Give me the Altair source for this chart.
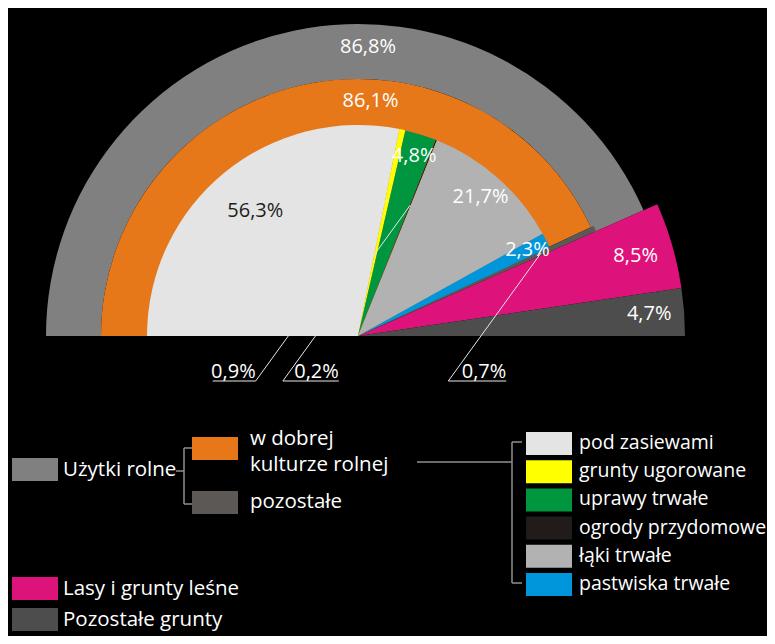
import math
import altair as alt
import pandas as pd

# ---------------- data ----------------
outer_cats = ["Użytki rolne", "Lasy i grunty leśne", "Pozostałe grunty"]
outer_vals = [86.8, 8.5, 4.7]
outer_labels = ["86,8%", "8,5%", "4,7%"]
outer_colors = ["#808080", "#dd137b", "#4d4d4d"]

mid_cats = ["w dobrej kulturze rolnej", "pozostałe"]
mid_vals = [86.1, 0.7]
mid_labels = ["86,1%", "0,7%"]
mid_colors = ["#e6781a", "#5c5856"]

inner_cats = ["pod zasiewami", "grunty ugorowane", "uprawy trwałe",
              "ogrody przydomowe", "łąki trwałe", "pastwiska trwałe"]
inner_vals = [56.3, 0.9, 4.8, 0.2, 21.7, 2.3]
inner_labels = ["56,3%", "0,9%", "4,8%", "0,2%", "21,7%", "2,3%"]
inner_colors = ["#e4e4e4", "#ffff00", "#009640", "#211c19", "#b2b2b2", "#0096dc"]

# ---------------- layout ----------------
FONT = "Open Sans"
FS = 20.5
FS_RIGHT = 19.5
FS_LAB = 20
W, H = 759, 628
CX, CY = 350, 328
R_IN, R_MID, R_OUT, R_SIDE = 211, 257, 312, 327


def P(v):
    return v - 8  # page px -> chart px


def cum(vals):
    s, e, acc = [], [], 0.0
    for v in vals:
        s.append(acc)
        acc += v
        e.append(acc)
    return s, e


def polar(pos, r):
    th = math.radians(-90 + pos * 1.8)
    return CX + r * math.sin(th), CY - r * math.cos(th)


os_, oe = cum(outer_vals)
ms, me = cum(mid_vals)
is_, ie = cum(inner_vals)

outer_df = pd.DataFrame({"cat": outer_cats, "start": os_, "end": oe})
mid_df = pd.DataFrame({"cat": mid_cats, "start": ms, "end": me})
inner_df = pd.DataFrame({"cat": inner_cats, "start": is_, "end": ie})

all_cats = outer_cats + mid_cats + inner_cats
all_colors = outer_colors + mid_colors + inner_colors
color_scale = alt.Scale(domain=all_cats, range=all_colors)
theta_scale = alt.Scale(domain=[0, 100], range=[-math.pi / 2, math.pi / 2])


def arcs(df, r, r2):
    return alt.Chart(df).mark_arc(radius=r, radius2=r2).encode(
        x=alt.value(CX), y=alt.value(CY),
        theta=alt.Theta("start:Q", scale=theta_scale, stack=None),
        theta2="end:Q",
        color=alt.Color("cat:N", scale=color_scale, legend=None),
    )


ring_gray = arcs(outer_df[outer_df.cat == outer_cats[0]], R_OUT, R_MID)
side = arcs(outer_df[outer_df.cat != outer_cats[0]], R_SIDE, 0)
orange = arcs(mid_df[mid_df.cat == mid_cats[0]], R_MID, 0)
rest = arcs(mid_df[mid_df.cat == mid_cats[1]], R_MID + 3, 0)
inner = arcs(inner_df, R_IN, 0)

# ---------------- slice labels ----------------
lab_rows = []
x, y = polar(51.1, 289)
lab_rows.append({"text": outer_labels[0], "x": x, "y": y, "tc": "#ffffff"})
x, y = polar(51.7, 235)
lab_rows.append({"text": mid_labels[0], "x": x, "y": y, "tc": "#ffffff"})
side_r = {1: 289, 2: 292}
for i in (1, 2):
    x, y = polar((os_[i] + oe[i]) / 2, side_r[i])
    lab_rows.append({"text": outer_labels[i], "x": x, "y": y, "tc": "#ffffff"})
inner_r = {0: 162, 2: 189, 4: 185, 5: 190}
for i, r in inner_r.items():
    x, y = polar((is_[i] + ie[i]) / 2, r)
    lab_rows.append({"text": inner_labels[i], "x": x, "y": y,
                     "tc": "#1e1e1e" if i == 0 else "#ffffff"})
lab_df = pd.DataFrame(lab_rows)

labels = alt.Chart(lab_df).mark_text(
    font=FONT, fontSize=FS_LAB, baseline="middle", align="center"
).encode(
    x=alt.X("x:Q", scale=None, axis=None),
    y=alt.Y("y:Q", scale=None, axis=None),
    text="text:N",
    color=alt.Color("tc:N", scale=None),
)

# ---------------- leader labels ----------------
SLOPE = 1.38
BASE_Y = P(381)
lead_specs = [
    ((is_[1] + ie[1]) / 2, 140, inner_labels[1], -43),
    ((is_[3] + ie[3]) / 2, 141, inner_labels[3], 56),
    ((ms[1] + me[1]) / 2, 201, mid_labels[1], 58),
]
seg_rows, lt_rows = [], []
for pos, r, txt, ul in lead_specs:
    sx, sy = polar(pos, r)
    ex = sx - (BASE_Y - sy) / SLOPE
    seg_rows.append({"x": sx, "y": sy, "x2": ex, "y2": BASE_Y})
    ux = ex + ul
    seg_rows.append({"x": ex, "y": BASE_Y, "x2": ux, "y2": BASE_Y})
    lt_rows.append({"text": txt, "x": max(ex, ux), "y": BASE_Y - 3})
seg_df = pd.DataFrame(seg_rows)
lt_df = pd.DataFrame(lt_rows)

leaders = alt.Chart(seg_df).mark_rule(color="#e8e8e8", strokeWidth=1).encode(
    x=alt.X("x:Q", scale=None, axis=None), y=alt.Y("y:Q", scale=None, axis=None),
    x2="x2:Q", y2="y2:Q",
)
leader_text = alt.Chart(lt_df).mark_text(
    font=FONT, fontSize=FS_LAB, baseline="alphabetic", align="right", color="#ffffff"
).encode(
    x=alt.X("x:Q", scale=None, axis=None), y=alt.Y("y:Q", scale=None, axis=None),
    text="text:N",
)

# ---------------- legend ----------------
SW_W, SW_H = 46, 23
leg_rows = []
left_tops = [458, 577, 608]
for c, t in zip(outer_cats, left_tops):
    leg_rows.append({"cat": c, "label": c, "sx": P(12), "sy": P(t), "tx": P(63),
                     "ty": P(t) + 12, "fs": FS})
mid_tops = [437, 491]
mid_disp = ["w dobrej\nkulturze rolnej", mid_cats[1]]
mid_ty = [439, 502]
for c, d, t, ty in zip(mid_cats, mid_disp, mid_tops, mid_ty):
    leg_rows.append({"cat": c, "label": d, "sx": P(192), "sy": P(t), "tx": P(250),
                     "ty": P(ty), "fs": FS})
for i, c in enumerate(inner_cats):
    t = 432 + i * 28.2
    leg_rows.append({"cat": c, "label": c, "sx": P(526), "sy": P(t), "tx": P(579),
                     "ty": P(t) + 11, "fs": FS_RIGHT})
leg_df = pd.DataFrame(leg_rows)
leg_df["sx2"] = leg_df.sx + SW_W
leg_df["sy2"] = leg_df.sy + SW_H

swatches = alt.Chart(leg_df).mark_rect().encode(
    x=alt.X("sx:Q", scale=None, axis=None), y=alt.Y("sy:Q", scale=None, axis=None),
    x2="sx2:Q", y2="sy2:Q",
    color=alt.Color("cat:N", scale=color_scale, legend=None),
)
leg_text = alt.Chart(leg_df).mark_text(
    font=FONT, baseline="middle", align="left", color="#ffffff",
    lineBreak="\n", lineHeight=26,
).encode(
    x=alt.X("tx:Q", scale=None, axis=None), y=alt.Y("ty:Q", scale=None, axis=None),
    text="label:N",
    size=alt.Size("fs:Q", scale=None, legend=None),
)

# bracket connectors
br = [
    (176, 471, 184, 471), (184, 448, 184, 504), (184, 448, 192, 448), (184, 504, 192, 504),
    (417, 462, 512, 462), (512, 442, 512, 583), (512, 442, 522, 442), (512, 583, 522, 583),
]
br_df = pd.DataFrame([{"x": P(a), "y": P(b), "x2": P(c), "y2": P(d)} for a, b, c, d in br])
brackets = alt.Chart(br_df).mark_rule(color="#8f8f8f", strokeWidth=1.5).encode(
    x=alt.X("x:Q", scale=None, axis=None), y=alt.Y("y:Q", scale=None, axis=None),
    x2="x2:Q", y2="y2:Q",
)

chart = alt.layer(
    ring_gray, side, orange, rest, inner, labels, leaders, leader_text,
    swatches, leg_text, brackets,
).properties(
    width=W, height=H, background="#000000", padding=0,
    autosize=alt.AutoSizeParams(type="none"),
).configure_view(stroke=None)

chart.save("out.html", embed_options={"renderer": "svg", "actions": False})
